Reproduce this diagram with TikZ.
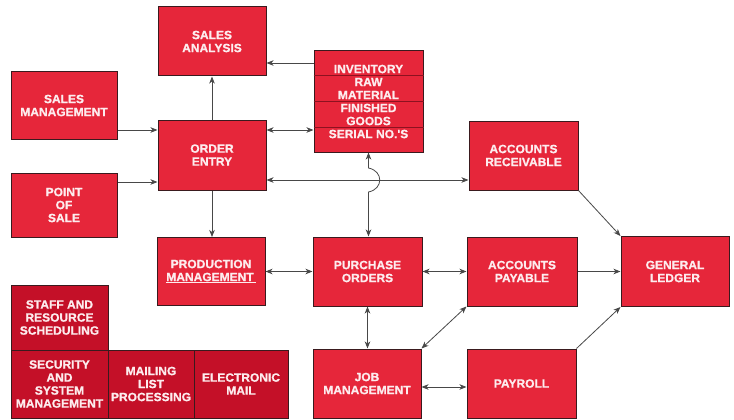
\documentclass[tikz,border=0pt]{standalone}
\usepackage{fontspec}
\setmainfont{Liberation Sans}[FakeBold=0.8]
\newfontfamily\boxfont{Liberation Sans}[FakeBold=0.9]
\usetikzlibrary{arrows.meta}
\definecolor{boxred}{RGB}{230,38,58}
\definecolor{darkred}{RGB}{196,16,40}
\definecolor{edgecol}{RGB}{58,26,30}
\definecolor{txtcol}{RGB}{253,236,238}
\definecolor{wirecol}{RGB}{72,72,72}
\definecolor{divcol}{RGB}{140,18,32}
\begin{document}
\begin{tikzpicture}[x=1pt,y=-1pt,
  box/.style={draw=edgecol, line width=1pt, fill=boxred, text=txtcol, align=center,
    font=\boxfont\bfseries\fontsize{12}{13}\selectfont, inner sep=0pt},
  dbox/.style={box, fill=darkred},
  wire/.style={draw=wirecol, line width=0.8pt},
  arr/.style={wire, -{Stealth[length=7pt,width=5.5pt,inset=2pt]}},
  darr/.style={wire, {Stealth[length=7pt,width=5.5pt,inset=2pt]}-{Stealth[length=7pt,width=5.5pt,inset=2pt]}},
  divline/.style={draw=divcol, line width=0.6pt}]
\fill[white] (0,0) rectangle (734,420);
\useasboundingbox (0,0) rectangle (734,420);

% main boxes
\node[box, minimum width=108pt, minimum height=69pt] (sa) at (212,41.5) {SALES\\ANALYSIS};
\node[box, minimum width=109pt, minimum height=101pt] (inv) at (368.5,101.5) {INVENTORY\\RAW\\MATERIAL\\FINISHED\\GOODS\\SERIAL NO.'S};
\node[box, minimum width=108pt, minimum height=70pt] (oe) at (212,155) {ORDER\\ENTRY};
\node[box, minimum width=106pt, minimum height=67pt] (sm) at (64,105.5) {SALES\\MANAGEMENT};
\node[box, minimum width=106pt, minimum height=64pt] (pos) at (64,205) {POINT\\OF\\SALE};
\node[box, minimum width=108pt, minimum height=68pt] (pm) at (211,271.5) {PRODUCTION\\\underline{MANAGEMENT\,}};
\node[box, minimum width=109pt, minimum height=69pt] (po) at (367.5,271.5) {PURCHASE\\ORDERS};
\node[box, minimum width=109pt, minimum height=69pt] (ar) at (523.5,155.5) {ACCOUNTS\\RECEIVABLE};
\node[box, minimum width=110pt, minimum height=69pt] (ap) at (522,271.5) {ACCOUNTS\\PAYABLE};
\node[box, minimum width=108pt, minimum height=70pt] (gl) at (675,271.5) {GENERAL\\LEDGER};
\node[box, minimum width=108pt, minimum height=69pt] (jm) at (367,383.5) {JOB\\MANAGEMENT};
\node[box, minimum width=109pt, minimum height=69pt] (pay) at (521.5,383.5) {PAYROLL};

% dark group
\node[dbox, minimum width=97pt, minimum height=65pt] (staff) at (59.5,317.5) {STAFF AND\\RESOURCE\\SCHEDULING};
\node[dbox, minimum width=97pt, minimum height=68pt] (sec) at (59.5,384) {SECURITY\\AND\\SYSTEM\\MANAGEMENT};
\node[dbox, minimum width=86pt, minimum height=68pt] (mail) at (151,384) {MAILING\\LIST\\PROCESSING};
\node[dbox, minimum width=94pt, minimum height=68pt] (email) at (241,384) {ELECTRONIC\\MAIL};

% inventory dividers
\draw[divline] (inv.west |- 0,75.5) -- (inv.east |- 0,75.5);
\draw[divline] (inv.west |- 0,101.5) -- (inv.east |- 0,101.5);
\draw[divline] (inv.west |- 0,127) -- (inv.east |- 0,127);

% connectors
\draw[arr] (sm.east |- 0,130) -- (oe.west |- 0,130);
\draw[arr] (pos.east |- 0,182) -- (oe.west |- 0,182);
\draw[arr] (oe.north) -- (sa.south);
\draw[arr] (inv.west |- 0,63) -- (sa.east |- 0,63);
\draw[darr] (oe.east |- 0,130) -- (inv.west |- 0,130);
\draw[arr] (oe.south) -- (oe.south |- pm.north);
\draw[darr] (oe.east |- 0,180) -- (ar.west |- 0,180);
\draw[darr] (inv.south) -- (inv.south |- 0,168)
  .. controls +(15,3) and +(15,-3) .. (inv.south |- 0,192) -- (inv.south |- po.north);
\draw[darr] (pm.east) -- (po.west);
\draw[darr] (po.east) -- (ap.west);
\draw[arr] (ap.east) -- (gl.west |- ap.east);
\draw[arr] (ar.south east) -- (gl.north west);
\draw[darr] (po.south) -- (po.south |- jm.north);
\draw[darr] (jm.north east) -- (ap.south west);
\draw[darr] (jm.east |- 0,387) -- (pay.west |- 0,387);
\draw[arr] (pay.north east) -- (gl.south west);
\end{tikzpicture}
\end{document}
